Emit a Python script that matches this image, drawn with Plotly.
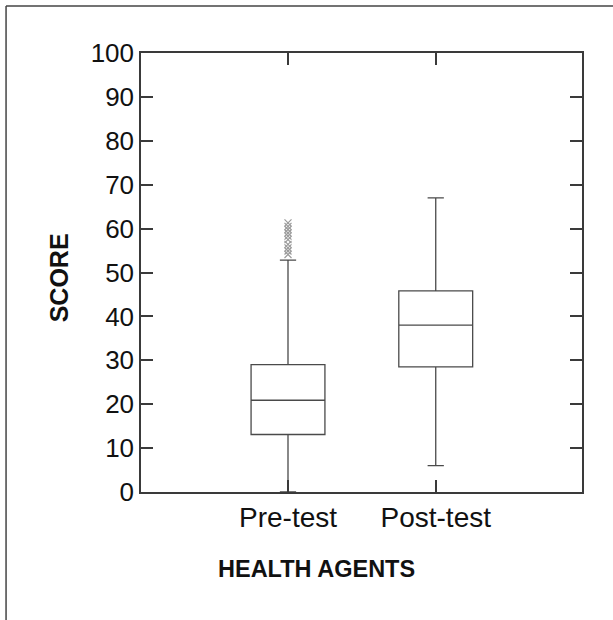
import plotly.graph_objects as go

categories = ["Pre-test", "Post-test"]
cat_pos = [0, 1]
q1 = [13.1, 28.5]
median = [20.9, 38.0]
q3 = [29.0, 45.8]
lower_fence = [0, 6.0]
upper_fence = [52.8, 67.0]
pre_outliers = [54.1, 54.9, 55.6, 56.4, 57.5, 58.3, 59.0, 59.8, 60.5, 61.3]
y_ticks = [0, 10, 20, 30, 40, 50, 60, 70, 80, 90, 100]

FONT = "Liberation Sans, Arial, Helvetica, sans-serif"
AX = "#3a3a3a"

fig = go.Figure()
fig.add_trace(go.Box(
    x=cat_pos, q1=q1, median=median, q3=q3,
    lowerfence=lower_fence, upperfence=upper_fence,
    width=0.5, whiskerwidth=0.22, boxpoints=False,
    fillcolor="rgba(255,255,255,0)",
    line=dict(color="#4a4a4a", width=1.3),
    showlegend=False, hoverinfo="skip",
))
fig.add_trace(go.Scatter(
    x=[cat_pos[0]] * len(pre_outliers), y=pre_outliers, mode="markers",
    marker=dict(symbol="x-thin", size=7, line=dict(color="#9a9a9a", width=1.2)),
    showlegend=False, hoverinfo="skip",
))

fig.update_xaxes(
    range=[-0.995, 1.99], tickvals=cat_pos, ticktext=categories,
    ticks="inside", ticklen=12, tickwidth=1.5, tickcolor=AX,
    showline=True, linecolor=AX, linewidth=1.5, mirror="ticks",
    showgrid=False, zeroline=False,
    tickfont=dict(family=FONT, size=28, color="#111"),
    ticklabelstandoff=0,
)
fig.update_yaxes(
    range=[0, 100], tickvals=y_ticks,
    ticks="inside", ticklen=12, tickwidth=1.5, tickcolor=AX,
    showline=True, linecolor=AX, linewidth=1.5, mirror="ticks",
    showgrid=False, zeroline=False,
    tickfont=dict(family=FONT, size=26, color="#111"),
)

fig.add_annotation(text="<b>SCORE</b>", xref="paper", yref="paper",
                   x=-0.187, y=0.488, textangle=-90, showarrow=False,
                   xanchor="center", yanchor="middle",
                   font=dict(family=FONT, size=25, color="#111"))
fig.add_annotation(text="<b>HEALTH AGENTS</b>", xref="paper", yref="paper",
                   x=0.397, y=-0.176, showarrow=False,
                   xanchor="center", yanchor="middle",
                   font=dict(family=FONT, size=23.5, color="#111"))

# outer frame (top and left edges)
fig.add_shape(type="line", xref="paper", yref="paper",
              x0=-0.306, x1=1.08, y0=1.107, y1=1.107,
              line=dict(color="#444", width=1.5))
fig.add_shape(type="line", xref="paper", yref="paper",
              x0=-0.306, x1=-0.306, y0=1.107, y1=-0.30,
              line=dict(color="#444", width=1.5))

fig.update_layout(
    width=613, height=620,
    margin=dict(l=141, r=31, t=53, b=127.5),
    paper_bgcolor="white", plot_bgcolor="white",
)
fig.write_html("out.html")
